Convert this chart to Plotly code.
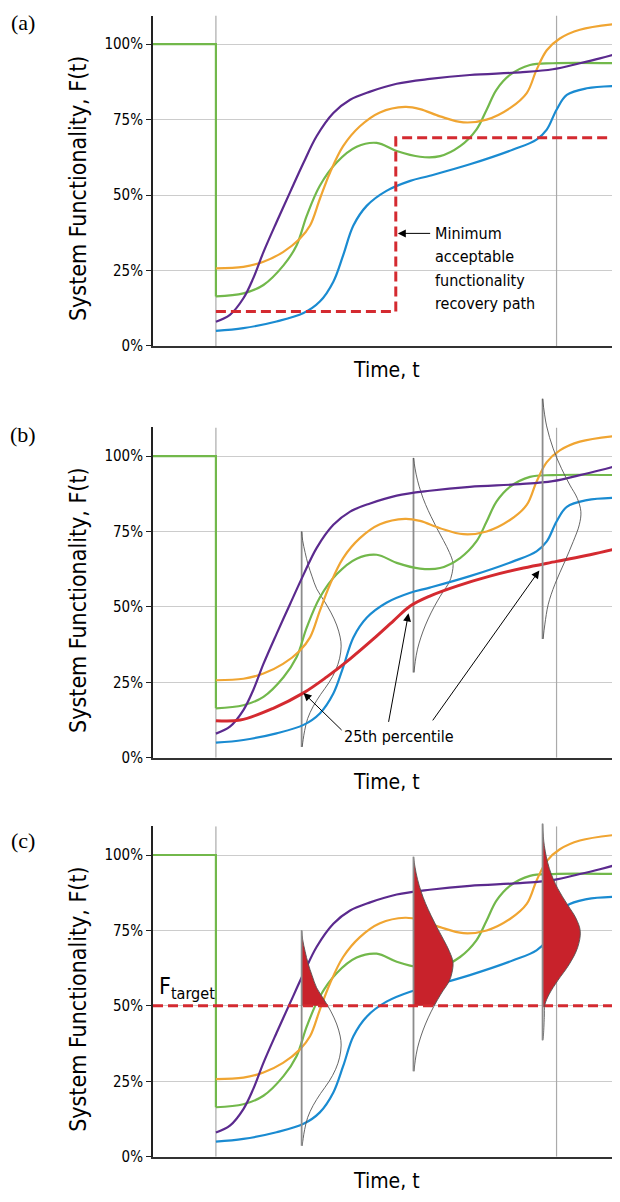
import numpy as np
import plotly.graph_objects as go

# ---------------- data ----------------
F_MAX = 109.5
REF_T = [13.5, 86.6]                      # grey reference times
Y_TICKS = [0, 25, 50, 75, 100]
Y_TICK_TEXT = ["0%", "25%", "50%", "75%", "100%"]

PRE_T = [0, 13.5, 13.5]                   # green: before / at disruption
PRE_F = [100, 100, 16.4]

GREEN_T = [13.5, 19.4, 23.7, 28.0, 30.8, 33.0, 35.8, 39.4, 43.7, 48.0, 52.3, 57.3,
           61.6, 65.9, 69.4, 71.6, 73.7, 76.6, 80.9, 85.8, 100]
GREEN_F = [16.4, 17.4, 20.2, 26.7, 33.3, 43.2, 53.1, 60.8, 66.0, 67.3, 64.6, 62.7,
           62.9, 66.2, 71.7, 78.3, 84.9, 89.8, 93.1, 93.7, 93.7]

ORANGE_T = [13.5, 19.4, 23.7, 27.9, 31.5, 33.7, 35.8, 38.0, 40.8, 44.4, 48.7, 54.1,
            57.3, 61.6, 66.6, 71.6, 76.6, 80.2, 82.3, 84.5, 87.3, 91.6, 100]
ORANGE_F = [25.7, 26.2, 27.9, 31.1, 35.5, 39.9, 48.7, 57.5, 66.2, 72.8, 77.4, 79.2,
            78.5, 76.1, 74.1, 75.0, 78.8, 83.8, 91.5, 98.0, 101.9, 104.8, 106.8]

PURPLE_T = [13.5, 16.5, 19.4, 21.5, 23.7, 26.5, 29.4, 32.3, 35.1, 38.7, 42.3, 46.6,
            52.3, 59.4, 68.0, 78.8, 85.8, 91.6, 95.9, 100]
PURPLE_F = [8.0, 10.3, 15.8, 22.4, 31.1, 41.0, 50.9, 60.7, 69.5, 77.2, 81.6, 84.3,
            86.9, 88.5, 89.8, 90.7, 91.7, 93.7, 95.3, 97.0]

BLUE_T = [13.5, 19.4, 26.5, 32.3, 35.8, 38.7, 40.8, 43.0, 45.9, 50.1, 55.2, 59.4,
          68.0, 77.3, 82.3, 84.5, 86.6, 88.8, 93.1, 100]
BLUE_F = [5.0, 5.9, 8.1, 10.9, 14.7, 21.3, 30.0, 39.9, 46.5, 51.4, 54.7, 56.4,
          60.2, 65.1, 68.4, 71.7, 78.3, 83.2, 85.4, 86.2]

MIN_PATH_T = [13.5, 52.1, 52.1, 100]      # minimum acceptable recovery path
MIN_PATH_F = [11.4, 11.4, 69.0, 69.0]

PCT25_T = [13.5, 18.7, 25.8, 32.3, 37.3, 42.3, 47.3, 51.6, 55.2, 59.4, 65.2, 72.3,
           79.5, 86.6, 93.8, 100]
PCT25_F = [12.3, 12.5, 16.4, 21.5, 26.8, 32.8, 39.4, 45.4, 50.3, 53.6, 56.9, 60.2,
           62.9, 65.1, 67.3, 69.5]

F_TARGET = 50

# distributions of F at three times (F level, density)
DIST_T = [31.9, 55.9, 83.6]
DIST1_F = [75, 72, 68, 64, 60, 56, 52, 48, 44, 40, 37, 33, 29, 25, 21, 17, 13, 9, 6, 3.6]
DIST1_D = [0, 1, 3.5, 6.5, 10.5, 15, 22.5, 29.5, 35, 38.5, 39.5, 38, 34, 27.5, 19, 11.5,
           6, 3, 1.5, 0.5]
DIST2_F = [99.4, 96, 92, 88, 84, 80, 76, 72, 68, 64.5, 61, 58, 55, 52, 48, 44, 40, 36,
           32, 28.3]
DIST2_D = [0, 1.5, 4, 7.5, 12, 17.5, 23.5, 30, 36, 39.5, 38.5, 35.5, 29.5, 24, 17.5, 12,
           7.5, 4, 1.8, 0.5]
DIST3B_F = [119, 110, 102.4, 95.8, 90.4, 86, 81.6, 77.2, 71.7, 65.1, 57.5, 50.9, 44.3, 39.4]
DIST3B_D = [0, 4, 10.7, 19, 27.3, 34.7, 38.3, 36.7, 30.7, 22.3, 12.3, 5.7, 2.3, 0.5]
DIST3C_F = [110.4, 103.2, 95.6, 89, 83.5, 79.1, 74.7, 69.3, 63.8, 58.3, 53.9, 50.4,
            46.2, 39.8, 38.6]
DIST3C_D = [0, 1.7, 6.7, 15, 25, 33.3, 37.7, 35, 26.7, 15, 6.7, 2.3, 1.7, 0.7, 0]

PANEL_LABELS = ["(a)", "(b)", "(c)"]
Y_TITLE = "System Functionality, F(t)"
X_TITLE = "Time, t"
MIN_PATH_LINES = ["Minimum", "acceptable", "functionality", "recovery path"]
PCT_TEXT = "25th percentile"
PCT_ARROW_T = [32.3, 55.1, 83.9]

# ---------------- style / layout constants ----------------
OFF = 8                                   # page body margin (px)
W, H = 620 - 2 * OFF, 1202 - 2 * OFF
PX_PER_T = 4.66
PX_PER_F = 76 / 25.0
X_LEFT = 153 - OFF
X_DOM = [X_LEFT / W, 1.0]
T_RANGE = [0, (W - X_LEFT) / PX_PER_T]
BOTTOMS = [348.5 - OFF, 763.5 - OFF, 1165.5 - OFF]   # rows of F=0 in the panels
DENS_SCALE = 1 / PX_PER_T                 # density units (px) -> time units

PURPLE = "#5b2a8e"
ORANGE = "#f0a532"
GREEN = "#72b84b"
BLUE = "#1a8bd1"
RED = "#d42a30"
RED_FILL = "#c8222b"
GRID = "#cccccc"
REFC = "#aaaaaa"
DISTC = "#8c8c8c"
NARROW = "DejaVu Sans Condensed, Liberation Sans Narrow, sans-serif"
SERIF = "Liberation Serif, DejaVu Serif, serif"
TXT = "#000000"


def ydom(bottom_px, fmax):
    top_px = bottom_px - fmax * PX_PER_F
    return [1 - bottom_px / H, 1 - top_px / H]


fig = go.Figure()


def line(x, y, xa, ya, color, width, shape="spline", dash=None):
    fig.add_trace(go.Scatter(
        x=list(x), y=list(y), xaxis=xa, yaxis=ya, mode="lines",
        line=dict(color=color, width=width, shape=shape, dash=dash),
        hoverinfo="skip", showlegend=False))


def ref_lines(xa, ya):
    for t in REF_T:
        line([t, t], [0, F_MAX], xa, ya, REFC, 1.2, "linear")


def curves(xa, ya):
    line(PRE_T, PRE_F, xa, ya, GREEN, 2.2, "linear")
    line(GREEN_T, GREEN_F, xa, ya, GREEN, 2.2)
    line(ORANGE_T, ORANGE_F, xa, ya, ORANGE, 2.2)
    line(BLUE_T, BLUE_F, xa, ya, BLUE, 2.2)
    line(PURPLE_T, PURPLE_F, xa, ya, PURPLE, 2.2)


def dist_curve(t0, F, D, xa, ya):
    line(t0 + np.array(D) * DENS_SCALE, F, xa, ya, "#555555", 0.9)


def dist_axis(t0, F, xa, ya):
    line([t0, t0], [max(F), min(F)], xa, ya, DISTC, 1.8, "linear")


def dist_fill(t0, F, D, xa, ya, level):
    F = np.array(F, float)
    D = np.array(D, float)
    keep = F >= level
    d_lev = np.interp(level, F[::-1], D[::-1])
    fx = np.concatenate([t0 + D[keep] * DENS_SCALE, [t0 + d_lev * DENS_SCALE]])
    fy = np.concatenate([F[keep], [level]])
    fig.add_trace(go.Scatter(x=[t0, t0], y=[F.max(), level], xaxis=xa, yaxis=ya,
                             mode="lines", line=dict(width=0, color=RED_FILL),
                             hoverinfo="skip", showlegend=False))
    fig.add_trace(go.Scatter(x=fx, y=fy, xaxis=xa, yaxis=ya, mode="lines",
                             line=dict(width=0, color=RED_FILL, shape="spline"),
                             fill="tonextx", fillcolor=RED_FILL,
                             hoverinfo="skip", showlegend=False))


# ---- panel (a)
ref_lines("x", "y")
curves("x", "y")
line(MIN_PATH_T, MIN_PATH_F, "x", "y", RED, 3, "linear", "10px,5px")

# ---- panel (b)
ref_lines("x2", "y2")
for t0, F, D in [(DIST_T[0], DIST1_F, DIST1_D), (DIST_T[1], DIST2_F, DIST2_D)]:
    dist_axis(t0, F, "x2", "y2")
    dist_curve(t0, F, D, "x2", "y2")
dist_axis(DIST_T[2], DIST3B_F, "x2", "y4")
dist_curve(DIST_T[2], DIST3B_F, DIST3B_D, "x2", "y4")
curves("x2", "y2")
line(PCT25_T, PCT25_F, "x2", "y2", RED, 3)

# ---- panel (c)
ref_lines("x3", "y3")
curves("x3", "y3")
for t0, F, D, ya in [(DIST_T[0], DIST1_F, DIST1_D, "y3"), (DIST_T[1], DIST2_F, DIST2_D, "y3"),
                     (DIST_T[2], DIST3C_F, DIST3C_D, "y5")]:
    dist_fill(t0, F, D, "x3", ya, F_TARGET)
    dist_curve(t0, F, D, "x3", ya)
    dist_axis(t0, F, "x3", ya)
line([0, 100], [F_TARGET, F_TARGET], "x3", "y3", RED, 3, "linear", "10px,5px")

# ---------------- axes ----------------
yax = dict(range=[0, F_MAX], tickvals=Y_TICKS, ticktext=Y_TICK_TEXT, showgrid=True,
           gridcolor=GRID, gridwidth=1, zeroline=False, showline=True, linecolor="#222",
           linewidth=2, ticks="outside", ticklen=5, tickwidth=1, tickcolor="#222",
           tickfont=dict(family=NARROW, size=15, color=TXT), fixedrange=True)
xax = dict(range=T_RANGE, domain=X_DOM, showgrid=False, zeroline=False, showline=True,
           linecolor="#333", linewidth=2, showticklabels=False, ticks="", fixedrange=True)

layout = dict(width=W, height=H, margin=dict(l=0, r=0, t=0, b=0), autosize=False,
              paper_bgcolor="white", plot_bgcolor="rgba(0,0,0,0)", showlegend=False)
names = [("xaxis", "yaxis", "x", "y"), ("xaxis2", "yaxis2", "x2", "y2"),
         ("xaxis3", "yaxis3", "x3", "y3")]
for (xn, yn, xr, yr), bot in zip(names, BOTTOMS):
    layout[xn] = dict(xax, anchor=yr)
    layout[yn] = dict(yax, anchor=xr, domain=ydom(bot, F_MAX))
layout["yaxis4"] = dict(range=[0, 121], domain=ydom(BOTTOMS[1], 121), anchor="x2",
                        visible=False, fixedrange=True)
layout["yaxis5"] = dict(range=[0, 112], domain=ydom(BOTTOMS[2], 112), anchor="x3",
                        visible=False, fixedrange=True)
fig.update_layout(**layout)

# ---------------- annotations ----------------
label_rows = [23 - OFF, 438 - OFF, 847 - OFF]
for lab, row in zip(PANEL_LABELS, label_rows):
    fig.add_annotation(text=lab, xref="paper", yref="paper", x=(23 - OFF) / W, y=1 - row / H,
                       xanchor="center", yanchor="middle", showarrow=False,
                       font=dict(family=SERIF, size=22, color=TXT))
for (xn, yn, xr, yr) in names:
    fig.add_annotation(text=Y_TITLE, xref="paper", yref=yr, x=(78 - OFF) / W, y=52,
                       textangle=-90, xanchor="center", yanchor="middle", showarrow=False,
                       font=dict(family=NARROW, size=23, color=TXT))
    fig.add_annotation(text=X_TITLE, xref=xr, yref=yr, x=50, y=0, yshift=-24,
                       xanchor="center", yanchor="middle", showarrow=False,
                       font=dict(family=NARROW, size=21, color=TXT))

# (a) minimum path note (one annotation per line)
for i, txt in enumerate(MIN_PATH_LINES):
    fig.add_annotation(text=txt, xref="x", yref="y", x=60.0, y=37.3 - i * 7.75,
                       xanchor="left", yanchor="middle", align="left", showarrow=False,
                       font=dict(family=NARROW, size=16, color=TXT))
fig.add_annotation(text="", xref="x", yref="y", x=MIN_PATH_T[1], y=37.3,
                   axref="x", ayref="y", ax=59.8, ay=37.3, showarrow=True,
                   arrowhead=2, arrowsize=1.6, arrowwidth=1, arrowcolor=TXT, standoff=2)

# (b) percentile note
fig.add_annotation(text=PCT_TEXT, xref="x2", yref="y2", x=52.8, y=7.1,
                   xanchor="center", yanchor="middle", showarrow=False,
                   font=dict(family=NARROW, size=16, color=TXT))
tails = [(40.8, 8.7), (50.5, 11.4), (59.8, 11.9)]
stand = [0, 7, 8]
for tt, (at, af), so in zip(PCT_ARROW_T, tails, stand):
    hf = float(np.interp(tt, PCT25_T, PCT25_F))
    fig.add_annotation(text="", xref="x2", yref="y2", x=tt, y=hf, axref="x2", ayref="y2",
                       ax=at, ay=af, showarrow=True, arrowhead=2, arrowsize=1.6,
                       arrowwidth=1, arrowcolor=TXT, standoff=so)

# (c) target label
fig.add_annotation(text="F<sub>target</sub>", xref="x3", yref="y3", x=0.9, y=56,
                   xanchor="left", yanchor="middle", showarrow=False,
                   font=dict(family=NARROW, size=23, color=TXT))

fig.write_html("out.html")
